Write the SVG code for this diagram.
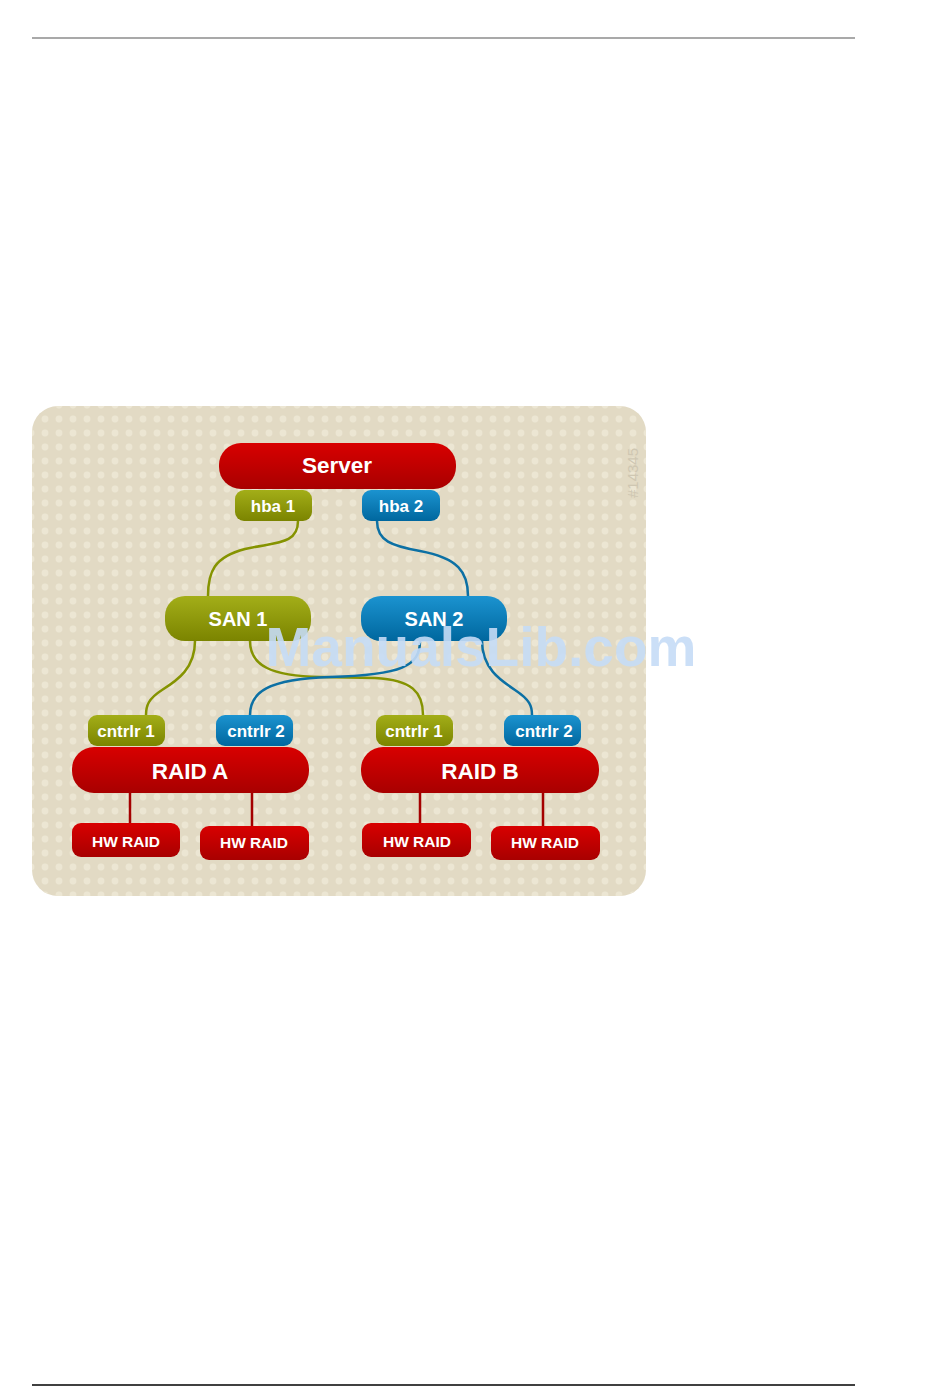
<svg xmlns="http://www.w3.org/2000/svg" width="950" height="1398" viewBox="0 0 950 1398">
<defs>
<pattern id="dots" x="38" y="412" width="14" height="14" patternUnits="userSpaceOnUse">
<circle cx="7" cy="7" r="3.4" fill="#ece6d3"/>
</pattern>
<linearGradient id="gRed" x1="0" y1="0" x2="0" y2="1">
<stop offset="0" stop-color="#d80000"/>
<stop offset="1" stop-color="#a80000"/>
</linearGradient>
<linearGradient id="gOlive" x1="0" y1="0" x2="0" y2="1">
<stop offset="0" stop-color="#a3ae18"/>
<stop offset="1" stop-color="#7b8400"/>
</linearGradient>
<linearGradient id="gBlue" x1="0" y1="0" x2="0" y2="1">
<stop offset="0" stop-color="#1b93d0"/>
<stop offset="1" stop-color="#00679e"/>
</linearGradient>
</defs>
<style>
text{font-family:"Liberation Sans",Arial,sans-serif;font-weight:bold;fill:#fff;text-anchor:middle;dominant-baseline:central}
.red{fill:url(#gRed)}
.olive{fill:url(#gOlive)}
.blue{fill:url(#gBlue)}
.big{font-size:22.5px}
.mid{font-size:20px}
.sm{font-size:17px}
.xs{font-size:15.5px}
.co{fill:none;stroke:#859300;stroke-width:2.5}
.cb{fill:none;stroke:#0c70a4;stroke-width:2.5}
.cr{fill:none;stroke:#a40000;stroke-width:2.5}
</style>
<rect width="950" height="1398" fill="#fff"/>
<line x1="32" y1="38" x2="855" y2="38" stroke="#555" stroke-width="1.2"/>
<line x1="32" y1="1385" x2="855" y2="1385" stroke="#000" stroke-width="1.5"/>
<g id="panel">
<rect x="32" y="406" width="614" height="490" rx="26" fill="#e2dac4"/>
<rect x="32" y="406" width="614" height="490" rx="26" fill="url(#dots)"/>
<text x="632" y="473" transform="rotate(-90 632 473)" style="font-size:15px;font-weight:normal;fill:#cfc7b2">#14345</text>
</g>
<g id="connectors">
<path class="co" d="M298,521 C298,545 275,542 245,549 C214,557 208,572 208,596"/>
<path class="cb" d="M377,521 C377,541 392,546 420,551 C458,558 468,572 468,596"/>
<path class="co" d="M195,641 C195,668 178,680 162,690 C148,699 146,706 146,715"/>
<path class="co" d="M250,641 C250,666 272,676 320,677 L375,678 C412,680 423,692 423,715"/>
<path class="cb" d="M420,641 C420,666 402,675 330,677 C268,679 250,692 250,715"/>
<path class="cb" d="M482,641 C482,668 500,680 515,690 C530,700 532,706 532,715"/>
<path class="cr" d="M130,793 V823 M252,793 V826 M420,793 V823 M543,793 V826"/>
</g>
<g id="server"><rect class="red" x="219" y="443" width="237" height="46" rx="22"/><text class="big" x="337" y="465">Server</text></g>
<g id="hba1"><rect class="olive" x="235" y="490" width="77" height="31" rx="9"/><text class="sm" x="273" y="506">hba 1</text></g>
<g id="hba2"><rect class="blue" x="362" y="490" width="78" height="31" rx="9"/><text class="sm" x="401" y="506">hba 2</text></g>
<g id="san1"><rect class="olive" x="165" y="596" width="146" height="45" rx="20"/><text class="mid" x="238" y="619">SAN 1</text></g>
<g id="san2"><rect class="blue" x="361" y="596" width="146" height="45" rx="20"/><text class="mid" x="434" y="619">SAN 2</text></g>
<g id="cntrlr1a"><rect class="olive" x="88" y="715" width="77" height="31" rx="9"/><text class="sm" x="126" y="731">cntrlr 1</text></g>
<g id="cntrlr2a"><rect class="blue" x="216" y="715" width="77" height="31" rx="9"/><text class="sm" x="256" y="731">cntrlr 2</text></g>
<g id="cntrlr1b"><rect class="olive" x="376" y="715" width="77" height="31" rx="9"/><text class="sm" x="414" y="731">cntrlr 1</text></g>
<g id="cntrlr2b"><rect class="blue" x="504" y="715" width="77" height="31" rx="9"/><text class="sm" x="544" y="731">cntrlr 2</text></g>
<g id="raida"><rect class="red" x="72" y="747" width="237" height="46" rx="22"/><text class="big" x="190" y="771">RAID A</text></g>
<g id="raidb"><rect class="red" x="361" y="747" width="238" height="46" rx="22"/><text class="big" x="480" y="771">RAID B</text></g>
<g id="hwa1"><rect class="red" x="72" y="823" width="108" height="34" rx="9"/><text class="xs" x="126" y="841">HW RAID</text></g>
<g id="hwa2"><rect class="red" x="200" y="826" width="109" height="34" rx="9"/><text class="xs" x="254" y="842">HW RAID</text></g>
<g id="hwb1"><rect class="red" x="362" y="823" width="109" height="34" rx="9"/><text class="xs" x="417" y="841">HW RAID</text></g>
<g id="hwb2"><rect class="red" x="491" y="826" width="109" height="34" rx="9"/><text class="xs" x="545" y="842">HW RAID</text></g>
<text x="481" y="647" style="font-size:55px;fill:#c5dcf6;fill-opacity:0.9">ManualsLib.com</text>
</svg>
